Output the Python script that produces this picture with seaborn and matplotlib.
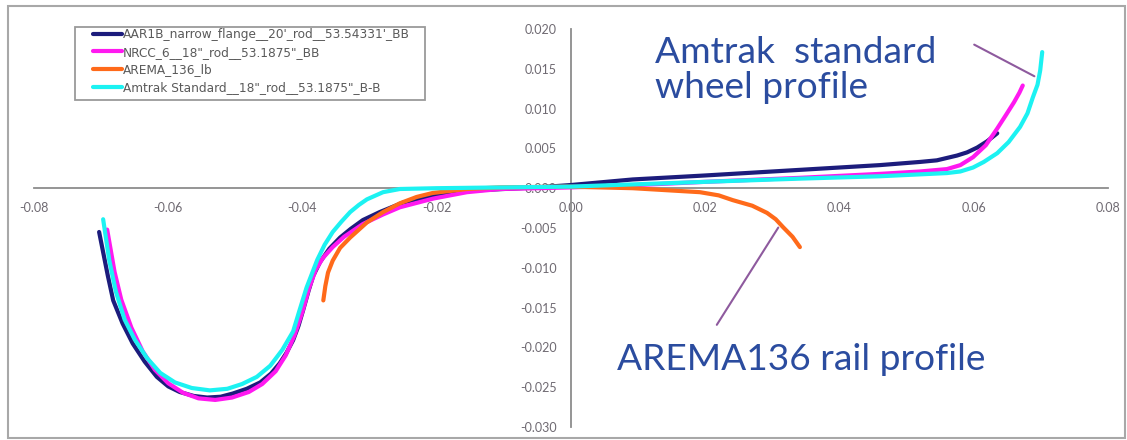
import numpy as np
import pandas as pd
import matplotlib
matplotlib.use("Agg")
import matplotlib.pyplot as plt
import seaborn as sns
from matplotlib.ticker import FormatStrFormatter
from matplotlib.patches import Rectangle
from matplotlib.lines import Line2D

# ---------------- data ----------------
series_names = [
    "AAR1B_narrow_flange__20'_rod__53.54331'_BB",
    "NRCC_6__18\"_rod__53.1875\"_BB",
    "AREMA_136_lb",
    "Amtrak Standard__18\"_rod__53.1875\"_B-B",
]
series_colors = ["#1c1c7c", "#ff19f0", "#ff6a1a", "#1cf2f2"]

aar_x = [-0.0703, -0.0690, -0.0682, -0.0668, -0.0653, -0.0635, -0.0617, -0.0600,
         -0.0583, -0.0562, -0.0542, -0.0522, -0.0504, -0.0483, -0.0463, -0.0447,
         -0.0434, -0.0424, -0.0414, -0.0406, -0.0399, -0.0391, -0.0384, -0.0374,
         -0.0360, -0.0344, -0.0328, -0.0310, -0.0285, -0.0250, -0.0200, -0.0150,
         -0.0100, -0.0050, 0.0000, 0.0092, 0.0200, 0.0340, 0.0460, 0.0520,
         0.0545, 0.0560, 0.0575, 0.0590, 0.0605, 0.0620, 0.0635]
aar_y = [-0.0055, -0.0110, -0.0141, -0.0170, -0.0195, -0.0218, -0.0237, -0.0249,
         -0.0256, -0.0261, -0.0263, -0.0262, -0.0258, -0.0252, -0.0244, -0.0233,
         -0.0220, -0.0207, -0.0191, -0.0173, -0.0153, -0.0129, -0.0110, -0.0093,
         -0.0076, -0.0062, -0.0051, -0.0040, -0.0030, -0.0018, -0.0008, -0.0003,
         -0.0001, 0.0001, 0.0004, 0.0011, 0.0016, 0.0023, 0.0029, 0.0033,
         0.0035, 0.0038, 0.0041, 0.0045, 0.0051, 0.0059, 0.0069]

nrcc_x = [-0.0691, -0.0680, -0.0670, -0.0655, -0.0638, -0.0620, -0.0600, -0.0578,
          -0.0555, -0.0530, -0.0505, -0.0480, -0.0460, -0.0440, -0.0425, -0.0412,
          -0.0400, -0.0390, -0.0380, -0.0370, -0.0355, -0.0338, -0.0310, -0.0280,
          -0.0255, -0.0205, -0.0155, -0.0106, -0.0050, 0.0000, 0.0100, 0.0200,
          0.0340, 0.0460, 0.0520, 0.0560, 0.0580, 0.0599, 0.0618, 0.0635, 0.0648,
          0.0660, 0.0668, 0.0673]
nrcc_y = [-0.0052, -0.0105, -0.0140, -0.0175, -0.0205, -0.0228, -0.0245, -0.0257,
          -0.0264, -0.0266, -0.0263, -0.0256, -0.0246, -0.0230, -0.0210, -0.0185,
          -0.0155, -0.0125, -0.0102, -0.0088, -0.0074, -0.0061, -0.0045, -0.0033,
          -0.0024, -0.0013, -0.0005, -0.0001, 0.0000, 0.0001, 0.0004, 0.0008,
          0.0013, 0.0018, 0.0021, 0.0024, 0.0029, 0.0039, 0.0054, 0.0075, 0.0092,
          0.0108, 0.0120, 0.0129]

arema_x = [-0.0369, -0.0366, -0.0362, -0.0355, -0.0344, -0.0329, -0.0304, -0.0280,
           -0.0255, -0.0230, -0.0206, -0.0155, -0.0106, -0.0006, 0.0092, 0.0192,
           0.0220, 0.0241, 0.0270, 0.0292, 0.0305, 0.0316, 0.0330, 0.0341]
arema_y = [-0.0141, -0.0123, -0.0106, -0.0091, -0.0075, -0.0062, -0.0043, -0.0030,
           -0.0019, -0.0011, -0.0006, -0.0001, 0.0001, 0.0002, 0.0000, -0.0005,
           -0.0009, -0.0015, -0.0022, -0.0031, -0.0039, -0.0049, -0.0061, -0.0074]

amtrak_x = [-0.0697, -0.0688, -0.0678, -0.0665, -0.0650, -0.0632, -0.0612, -0.0590,
            -0.0565, -0.0538, -0.0512, -0.0490, -0.0468, -0.0448, -0.0430, -0.0414,
            -0.0405, -0.0394, -0.0378, -0.0367, -0.0355, -0.0342, -0.0329, -0.0316,
            -0.0304, -0.0280, -0.0255, -0.0200, -0.0100, 0.0000, 0.0100, 0.0200,
            0.0340, 0.0460, 0.0560, 0.0580, 0.0599, 0.0615, 0.0635, 0.0652, 0.0669,
            0.0680, 0.0688, 0.0695, 0.0699, 0.0702]
amtrak_y = [-0.0039, -0.0090, -0.0130, -0.0165, -0.0190, -0.0213, -0.0232, -0.0244,
            -0.0251, -0.0254, -0.0252, -0.0246, -0.0237, -0.0223, -0.0203, -0.0180,
            -0.0155, -0.0125, -0.0090, -0.0071, -0.0055, -0.0042, -0.0030, -0.0021,
            -0.0014, -0.0005, -0.0001, 0.0000, 0.0001, 0.0002, 0.0005, 0.0008,
            0.0012, 0.0015, 0.0019, 0.0021, 0.0026, 0.0033, 0.0044, 0.0058, 0.0077,
            0.0094, 0.0114, 0.0130, 0.0148, 0.0171]

x_ticks = [-0.08, -0.06, -0.04, -0.02, 0.00, 0.02, 0.04, 0.06, 0.08]
y_ticks = [-0.030, -0.025, -0.020, -0.015, -0.010, -0.005, 0.000, 0.005, 0.010, 0.015, 0.020]

label_wheel = ["Amtrak  standard", "wheel profile"]
label_rail = "AREMA136 rail profile"

# ---------------- frame ----------------
frames = []
for name, xs, ys in zip(series_names,
                        [aar_x, nrcc_x, arema_x, amtrak_x],
                        [aar_y, nrcc_y, arema_y, amtrak_y]):
    frames.append(pd.DataFrame({"x": xs, "y": ys, "series": name}))
df = pd.concat(frames, ignore_index=True)

sns.set_theme(style="white")
plt.rcParams["font.family"] = ["Lato", "DejaVu Sans"]
plt.rcParams["axes.unicode_minus"] = False

fig = plt.figure(figsize=(11.27, 4.40), dpi=100)
ax = fig.add_axes([34 / 1127, 1 - 427 / 440, (1108 - 34) / 1127, (427 - 29) / 440])
ax.set_facecolor("none")

sns.lineplot(data=df, x="x", y="y", hue="series", hue_order=series_names,
             palette=series_colors, sort=False, estimator=None, units="series",
             linewidth=3.0, ax=ax, legend=False)
for ln in ax.get_lines():
    ln.set_solid_joinstyle("round")
    ln.set_solid_capstyle("round")

ax.set_xlim(-0.08, 0.08)
ax.set_ylim(-0.03, 0.02)
ax.set_xticks(x_ticks)
ax.set_yticks(y_ticks)
ax.xaxis.set_major_formatter(FormatStrFormatter("%.2f"))
ax.yaxis.set_major_formatter(FormatStrFormatter("%.3f"))
ax.set_xlabel("")
ax.set_ylabel("")

for s in ["top", "right"]:
    ax.spines[s].set_visible(False)
ax.spines["left"].set_position(("data", 0))
ax.spines["bottom"].set_position(("data", 0))
for s in ["left", "bottom"]:
    ax.spines[s].set_color("#8c8c8c")
    ax.spines[s].set_linewidth(1.3)
    ax.spines[s].set_zorder(1)

tick_color = "#6f6a72"
ax.tick_params(axis="both", which="major", direction="out", length=4, width=1.2,
               color="#8c8c8c", labelsize=9, labelcolor=tick_color)
ax.tick_params(axis="x", pad=6)
ax.tick_params(axis="y", pad=6)
ax.grid(False)

# legend (custom box drawn separately)
handles = [Line2D([0], [0], color=c, lw=3.0) for c in series_colors]
leg = fig.legend(handles, series_names, loc="upper left",
                 bbox_to_anchor=(93 / 1127, 1 - 28 / 440), frameon=False,
                 prop={"family": "DejaVu Sans", "size": 8.7},
                 handlelength=2.4, handletextpad=0.05,
                 labelspacing=0.39, borderpad=0, borderaxespad=0)
for t in leg.get_texts():
    t.set_color("#5a5a5a")
fig.patches.append(Rectangle((75 / 1127, 1 - 100 / 440), (425 - 75) / 1127, 73 / 440,
                             transform=fig.transFigure, fill=True, facecolor="white",
                             edgecolor="#9a9a9a", lw=1.3, zorder=0))

# annotations
text_color = "#2b4c9f"
fig.text(655 / 1127, 1 - 63 / 440, label_wheel[0], fontsize=26.7, color=text_color,
         va="baseline", ha="left")
fig.text(655 / 1127, 1 - 98 / 440, label_wheel[1], fontsize=26.7, color=text_color,
         va="baseline", ha="left")
fig.text(617 / 1127, 1 - 370 / 440, label_rail, fontsize=26.7, color=text_color,
         va="baseline", ha="left")

pointer_color = "#8e5a9e"
ax.annotate("", xy=(0.0694, 0.0139), xytext=(0.0597, 0.0182),
            arrowprops=dict(arrowstyle="-", color=pointer_color, lw=1.5))
ax.annotate("", xy=(0.0311, -0.00465), xytext=(0.0215, -0.01746),
            arrowprops=dict(arrowstyle="-", color=pointer_color, lw=1.5))

# outer frame
fig.patches.append(Rectangle((8 / 1127, 2 / 440), (1125 - 8) / 1127, (438 - 6) / 440,
                             transform=fig.transFigure, fill=False,
                             edgecolor="#a8a8a8", lw=1.5))

fig.savefig("out.png", dpi=100)
